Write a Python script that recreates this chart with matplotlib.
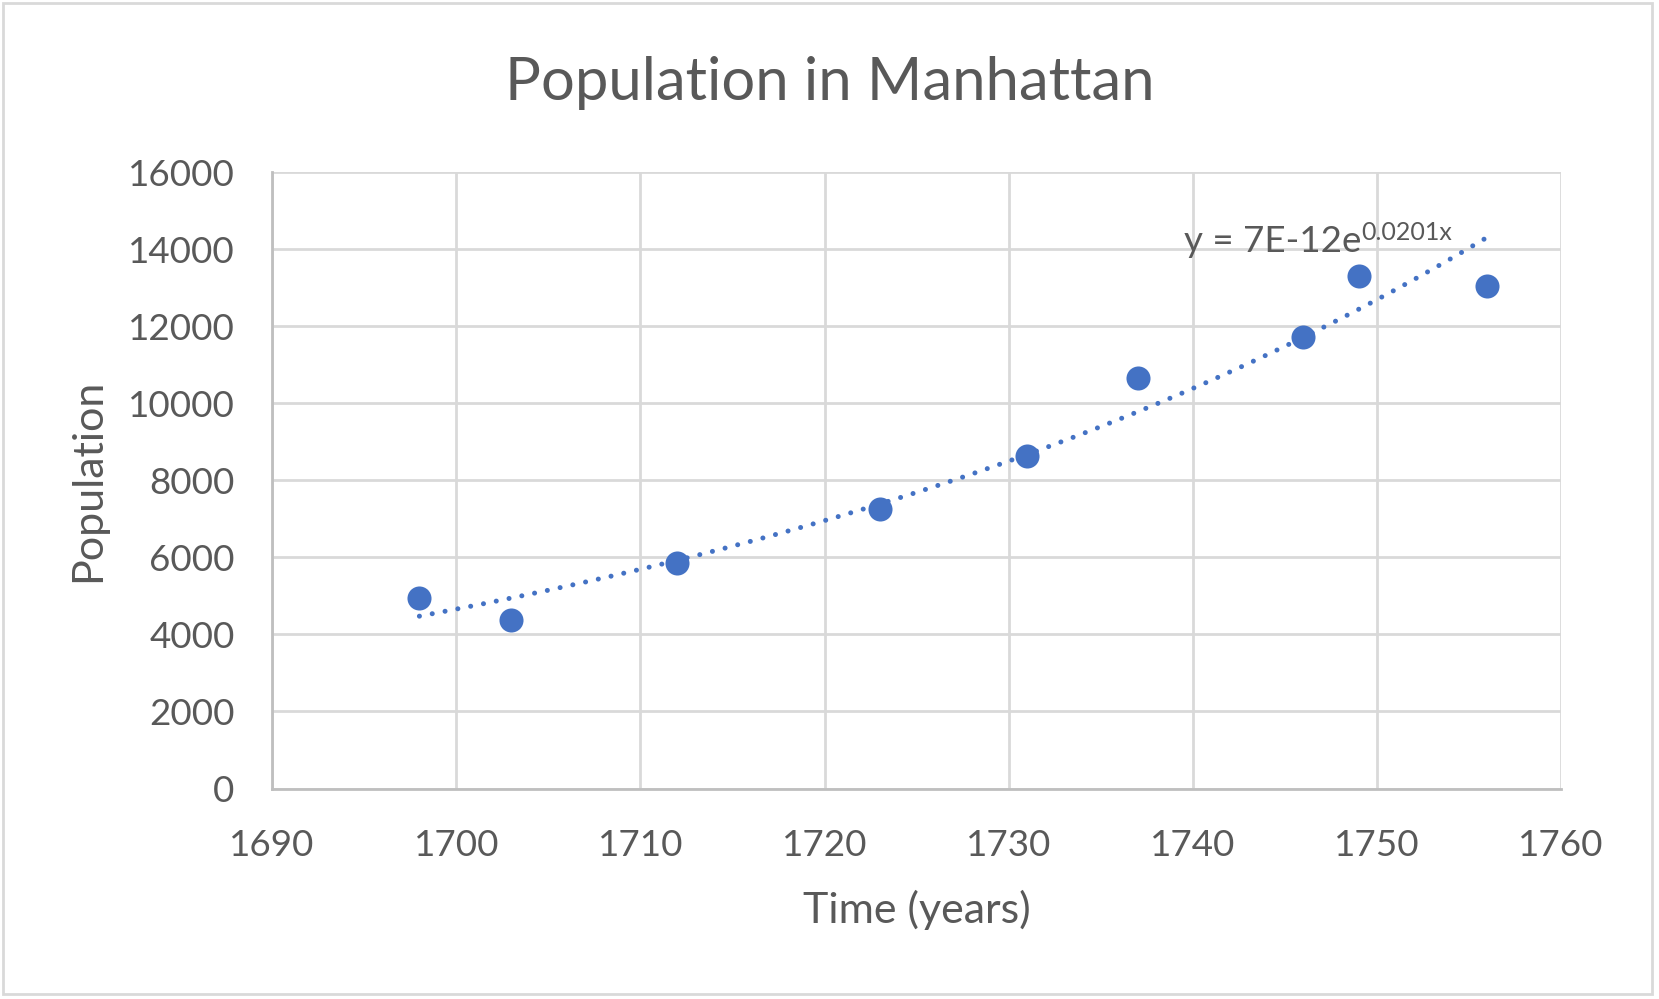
import numpy as np
import matplotlib.pyplot as plt
from matplotlib.patches import Rectangle

plt.rcParams['font.family'] = ['Lato', 'DejaVu Sans']

# datos
anios = [1698, 1703, 1712, 1723, 1731, 1737, 1746, 1749, 1756]
poblacion = [4937, 4375, 5840, 7248, 8622, 10664, 11717, 13294, 13046]
yticks = [0, 2000, 4000, 6000, 8000, 10000, 12000, 14000, 16000]
xticks = [1690, 1700, 1710, 1720, 1730, 1740, 1750, 1760]
ecuacion = 'y = 7E-12e'
exponente = '0.0201x'

gris = '#595959'
azul = '#4472C4'

fig = plt.figure(figsize=(16.59, 9.99), dpi=100)
ax = fig.add_axes([0.164, 0.2107, 0.777, 0.6171])

# borde del grafico
fig.patches.append(Rectangle((0.002, 0.005), 0.994, 0.992, transform=fig.transFigure,
                             fill=False, edgecolor='#d9d9d9', linewidth=2))

# linea de tendencia exponencial (ajuste sobre los datos)
b, a = np.polyfit(anios, np.log(poblacion), 1)
xt = np.linspace(anios[0], anios[-1], 200)
ax.plot(xt, np.exp(a + b * xt), color=azul, linewidth=3.6,
        linestyle=(0, (0.01, 2.6)), dash_capstyle='round', zorder=3)

# puntos
ax.scatter(anios, poblacion, s=300, color=azul, zorder=4, linewidths=0)

# Ejes
ax.set_xlim(1690, 1760)
ax.set_ylim(0, 16000)
ax.set_xticks(xticks)
ax.set_yticks(yticks)
ax.grid(True, color='#d9d9d9', linewidth=2)
ax.set_axisbelow(True)
for lado in ['top', 'right']:
    ax.spines[lado].set_visible(False)
for lado in ['left', 'bottom']:
    ax.spines[lado].set_color('#bfbfbf')
    ax.spines[lado].set_linewidth(2)
ax.tick_params(length=0, labelsize=26.5, labelcolor=gris)
ax.tick_params(axis='y', pad=27)
ax.tick_params(axis='x', pad=29)

ax.set_xlabel('Time (years)', fontsize=31, color=gris, labelpad=20)
ax.set_ylabel('Population', fontsize=31, color=gris, labelpad=15)

# Titulo centrado en la figura
fig.text(0.5, 0.917, 'Population in Manhattan', fontsize=43, color=gris,
         ha='center', va='center')

# Ecuacion de la tendencia
t = ax.text(1739.5, 14200, ecuacion, fontsize=26.5, color=gris, va='center', ha='left')
ax.annotate(exponente, xy=(1, 1), xycoords=t, xytext=(0, 3), textcoords='offset points',
            fontsize=18, color=gris, ha='left', va='top')

fig.savefig('out.png', dpi=100)
